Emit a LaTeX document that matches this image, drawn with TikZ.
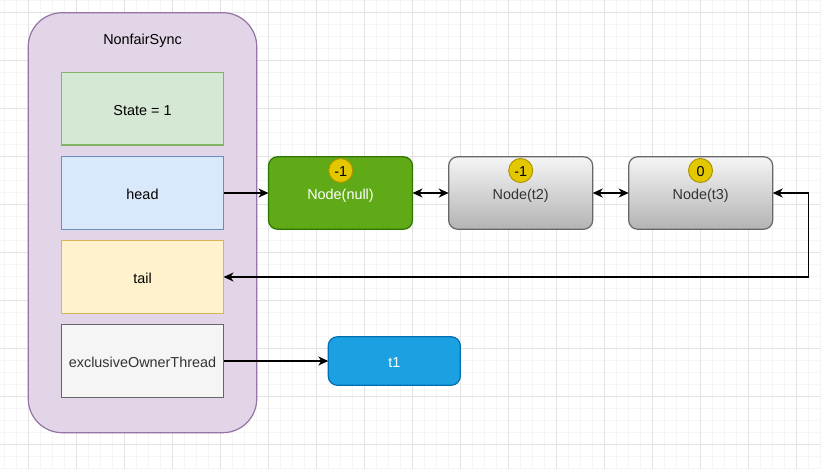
\documentclass[tikz,border=0pt]{standalone}
\usepackage{fontspec}
\setmainfont{Liberation Sans}
\usetikzlibrary{arrows.meta}
\definecolor{purpF}{HTML}{E1D5E7}
\definecolor{purpD}{HTML}{9673A6}
\definecolor{greenF}{HTML}{D5E8D4}
\definecolor{greenD}{HTML}{82B366}
\definecolor{blueF}{HTML}{DAE8FC}
\definecolor{blueD}{HTML}{6C8EBF}
\definecolor{yelF}{HTML}{FFF2CC}
\definecolor{yelD}{HTML}{D6B656}
\definecolor{grayF}{HTML}{F5F5F5}
\definecolor{grayD}{HTML}{666666}
\definecolor{grayG}{HTML}{B3B3B3}
\definecolor{darkG}{HTML}{60A917}
\definecolor{darkGD}{HTML}{2D7600}
\definecolor{cyanF}{HTML}{1BA1E2}
\definecolor{cyanD}{HTML}{006EAF}
\definecolor{badgeF}{HTML}{E3C800}
\definecolor{badgeD}{HTML}{B09500}
\definecolor{txtG}{HTML}{333333}
\definecolor{minorC}{HTML}{F5F5F5}
\definecolor{majorC}{HTML}{E3E3E3}
\tikzset{
  every node/.style={text height=12.5pt, text depth=0pt},
  field/.style={draw, line width=1.2pt, inner sep=0pt, outer sep=0pt, minimum width=162, minimum height=72.5},
  qnode/.style={draw, line width=1.2pt, rounded corners=9pt, inner sep=0pt, outer sep=0pt, minimum width=144, minimum height=72.5},
  graynode/.style={qnode, draw=grayD, top color=grayF, bottom color=grayG, text=txtG},
  badge/.style={circle, draw=badgeD, fill=badgeF, line width=1pt, minimum size=24, inner sep=0pt, text=black, text height=11.5pt},
  conn/.style={line width=1.4pt, -{Stealth[length=10pt,width=9pt,inset=3pt]}},
  conn2/.style={line width=1.4pt, {Stealth[length=10pt,width=9pt,inset=3pt]}-{Stealth[length=10pt,width=9pt,inset=3pt]}},
}
\begin{document}
\begin{tikzpicture}[x=1pt,y=-1pt,font=\fontsize{14.4}{17}\selectfont]
\useasboundingbox (0,0) rectangle (821,469);
\fill[white] (0,0) rectangle (821,469);
% grid
\foreach \x in {4,16,...,820} \draw[minorC, line width=1pt] (\x,0) -- (\x,469);
\foreach \y in {0,12,...,468} \draw[minorC, line width=1pt] (0,\y) -- (821,\y);
\foreach \x in {28,76,...,820} \draw[majorC, line width=1pt] (\x,0) -- (\x,469);
\foreach \y in {12,60,...,468} \draw[majorC, line width=1pt] (0,\y) -- (821,\y);
% container
\node[draw=purpD, fill=purpF, line width=1.2pt, rounded corners=34pt, minimum width=228.5, minimum height=420, inner sep=0pt] (sync) at (142.5,222.7) {};
\node (title) at (142.5,38.5) {NonfairSync};
% fields
\node[field, draw=greenD, fill=greenF] (state) at (142.5,108.8) {State = 1};
\node[field, draw=blueD, fill=blueF] (head) at (142.5,193) {head};
\node[field, draw=yelD, fill=yelF] (tail) at (142.5,277) {tail};
\node[field, draw=grayD, fill=grayF, text=txtG] (owner) at (142.5,361) {exclusiveOwnerThread};
% queue nodes
\node[qnode, draw=darkGD, fill=darkG, text=white] (nnull) at (340.5,193) {Node(null)};
\node[graynode] (nt2) at (520.7,193) {Node(t2)};
\node[graynode] (nt3) at (700.7,193) {Node(t3)};
\node[badge] (b1) at (340.7,170.5) {-1};
\node[badge] (b2) at (520.7,170.5) {-1};
\node[badge] (b3) at (700.5,170.5) {0};
% thread
\node[qnode, draw=cyanD, fill=cyanF, text=white, minimum width=132, minimum height=48.5] (t1) at (394.3,361) {t1};
% connectors
\coordinate (turn) at (808.3,277);
\draw[conn] (head.east) -- (nnull.west);
\draw[conn2] (nnull.east) -- (nt2.west);
\draw[conn2] (nt2.east) -- (nt3.west);
\draw[conn2] (nt3.east) -| (turn) -- (tail.east);
\draw[conn] (owner.east) -- (t1.west);
\end{tikzpicture}
\end{document}
